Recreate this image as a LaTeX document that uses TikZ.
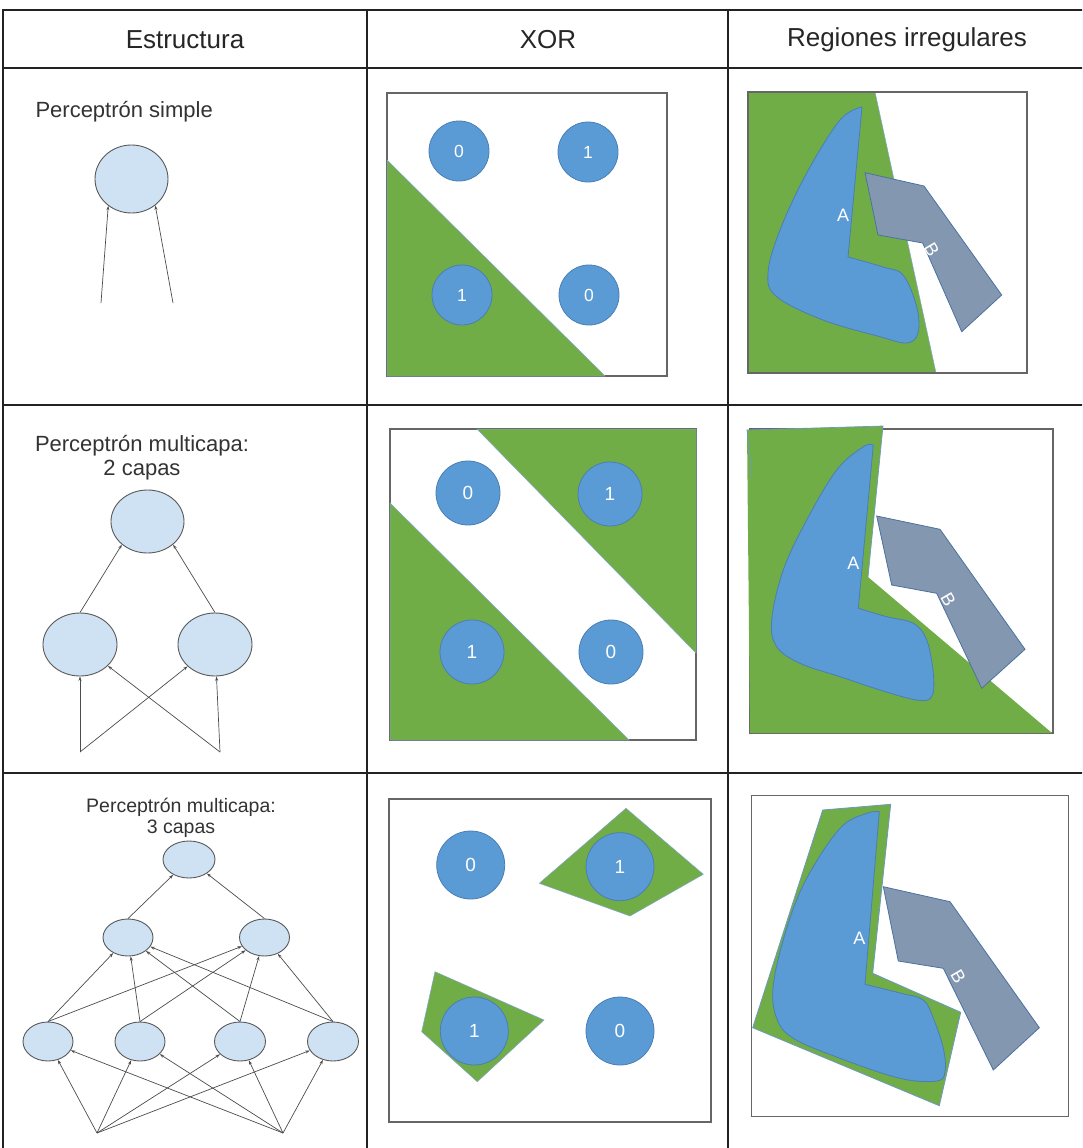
\documentclass[tikz,border=0pt]{standalone}
\usepackage{fontspec}
\setmainfont{Liberation Sans}
\usetikzlibrary{shapes.geometric,arrows.meta}
\definecolor{nn}{HTML}{CFE2F3}
\definecolor{dot}{HTML}{5B9BD5}
\definecolor{dotedge}{HTML}{4A7EB5}
\definecolor{grn}{HTML}{70AD47}
\definecolor{bshape}{HTML}{8497B0}
\definecolor{bedge}{HTML}{4A72A0}
\definecolor{gridc}{HTML}{222222}
\begin{document}
\begin{tikzpicture}[x=1pt,y=-1pt,
  neuron/.style={ellipse,draw=black!65,fill=nn,line width=0.9pt,inner sep=0pt},
  link/.style={draw=black!70,line width=0.7pt,-{Stealth[length=4.5pt,width=3pt]}},
  hdr/.style={font=\fontsize{26}{30}\selectfont,text=black!85},
  lbl/.style={font=\fontsize{22}{24}\selectfont,text=black!80,align=center},
  lblsmall/.style={font=\fontsize{19.5}{20.5}\selectfont,text=black!80,align=center},
  panel/.style={draw=black!60,line width=1.2pt,fill=white},
  region/.style={fill=grn,draw=dotedge!70,line width=0.5pt},
  dotnode/.style={circle,fill=dot,draw=dotedge,line width=0.8pt,inner sep=0pt,text=white,font=\fontsize{17.5}{18}\selectfont},
  bigdot/.style={dotnode,font=\fontsize{19}{19}\selectfont},
  shapeA/.style={fill=dot,draw=dotedge,line width=0.8pt},
  shapeB/.style={fill=bshape,draw=bedge,line width=0.8pt},
  shapelbl/.style={text=white,font=\fontsize{18}{18}\selectfont,inner sep=0pt}]
\useasboundingbox (0,0) rectangle (1082,1148);
\clip (0,0) rectangle (1082,1148);
\fill[white] (0,0) rectangle (1082,1148);

% ---------- table grid ----------
\draw[gridc,line width=1.5pt] (3,1160) -- (3,10) -- (1090,10);
\draw[gridc,line width=1.5pt] (3,68) -- (1090,68);
\draw[gridc,line width=1.5pt] (3,405) -- (1090,405);
\draw[gridc,line width=1.5pt] (3,773) -- (1090,773);
\draw[gridc,line width=1.5pt] (367,10) -- (367,1160);
\draw[gridc,line width=1.5pt] (728,10) -- (728,1160);

% ---------- header ----------
\node[hdr] (h1) at (185,40) {Estructura};
\node[hdr] (h2) at (548,40) {XOR};
\node[hdr] (h3) at (907,40) {Regiones irregulares};

% ---------- row 1: structure ----------
\node[lbl,anchor=west] (t1) at (32,112) {Perceptrón simple};
\node[neuron,minimum width=73pt,minimum height=68pt] (n1) at (131.5,179) {};
\coordinate (i1a) at (101,303);
\coordinate (i1b) at (173,303);
\draw[link] (i1a) -- (n1.229);
\draw[link] (i1b) -- (n1.312);

% ---------- row 2: structure ----------
\node[lbl] (t2) at (142,458) {Perceptrón multicapa:\\2 capas};
\node[neuron,minimum width=73pt,minimum height=63pt] (T2) at (147.5,521.5) {};
\node[neuron,minimum width=74pt,minimum height=63pt] (L2) at (80,644.5) {};
\node[neuron,minimum width=74pt,minimum height=63pt] (R2) at (215,644.5) {};
\coordinate (i2a) at (80,752);
\coordinate (i2b) at (220,752);
\draw[link] (L2.north) -- (T2.222);
\draw[link] (R2.north) -- (T2.318);
\draw[link] (i2a) -- (L2);
\draw[link] (i2a) -- (R2);
\draw[link] (i2b) -- (L2);
\draw[link] (i2b) -- (R2);

% ---------- row 3: structure ----------
\node[lblsmall] (t3) at (181,818) {Perceptrón multicapa:\\3 capas};
\node[neuron,minimum width=52pt,minimum height=37pt] (O3) at (189,859.5) {};
\node[neuron,minimum width=50pt,minimum height=37pt] (H3a) at (128,937.5) {};
\node[neuron,minimum width=50pt,minimum height=37pt] (H3b) at (264.5,937.5) {};
\node[neuron,minimum width=50pt,minimum height=39pt] (B3a) at (48,1041.5) {};
\node[neuron,minimum width=50pt,minimum height=39pt] (B3b) at (140,1041.5) {};
\node[neuron,minimum width=51pt,minimum height=39pt] (B3c) at (240,1041.5) {};
\node[neuron,minimum width=51pt,minimum height=39pt] (B3d) at (333,1041.5) {};
\coordinate (i3a) at (97,1133);
\coordinate (i3b) at (283,1133);
\draw[link] (H3a.north) -- (O3);
\draw[link] (H3b.north) -- (O3);
\foreach \b in {B3a,B3b,B3c,B3d}{
  \draw[link] (\b.north) -- (H3a);
  \draw[link] (\b.north) -- (H3b);
  \draw[link] (i3a) -- (\b);
  \draw[link] (i3b) -- (\b);
}

% ---------- row 1: XOR ----------
\draw[panel] (387,93) rectangle (667,376);
\fill[region] (387,160) -- (605,376) -- (387,376) -- cycle;
\node[dotnode,minimum size=60pt] (x1a) at (459,151) {0};
\node[dotnode,minimum size=60pt] (x1b) at (588,152) {1};
\node[dotnode,minimum size=60pt] (x1c) at (462,295) {1};
\node[dotnode,minimum size=60pt] (x1d) at (589,295) {0};

% ---------- row 2: XOR ----------
\draw[panel] (390,429) rectangle (696,740);
\fill[region] (390,503) -- (629,740) -- (390,740) -- cycle;
\fill[region] (477,429) -- (696,429) -- (696,653) -- cycle;
\node[bigdot,minimum size=64pt] (x2a) at (468,493) {0};
\node[bigdot,minimum size=64pt] (x2b) at (610,494) {1};
\node[bigdot,minimum size=64pt] (x2c) at (472,652) {1};
\node[bigdot,minimum size=64pt] (x2d) at (611,652) {0};

% ---------- row 3: XOR ----------
\draw[panel] (389,799) rectangle (711,1122);
\filldraw[region] (626,808.3) -- (703.3,874.3) -- (630,916) -- (539.3,883.3) -- cycle;
\filldraw[region] (435,971.7) -- (544,1020) -- (477.3,1081.7) -- (421.7,1031.7) -- cycle;
\node[bigdot,minimum size=68pt] (x3a) at (470.7,865) {0};
\node[bigdot,minimum size=68pt] (x3b) at (620,866.7) {1};
\node[bigdot,minimum size=68pt] (x3c) at (474.3,1031) {1};
\node[bigdot,minimum size=68pt] (x3d) at (620,1031) {0};

% ---------- row 1: regions ----------
\fill[white] (748,92) rectangle (1027,373);
\fill[grn] (748,92) -- (875,92) -- (936,373) -- (748,373) -- cycle;
\draw[dotedge!70,line width=0.5pt] (875,92) -- (936,373);
\draw[black!60,line width=1.2pt] (748,92) rectangle (1027,373);
\filldraw[shapeA] (862,107) -- (848,257) -- plot[smooth,tension=0.6] coordinates {(848,257) (883,267) (903,275) (916.7,306.7) (918,333) (906.7,343) (880,336.7) (823,320) (776.7,296.7) (768,273) (780,230) (806.7,173) (840,120) (862,107)} -- cycle;
\node[shapelbl] (a1) at (843,215) {A};
\filldraw[shapeB] (865,172.7) -- (924,186) -- (1001.7,295) -- (961.7,331.7) -- (922.7,243) -- (878,235) -- cycle;
\node[shapelbl,rotate=-60] (b1) at (931.7,250) {B};

% ---------- row 2: regions ----------
\draw[black!60,line width=1.2pt,fill=white] (750,429) rectangle (1053,733);
\fill[grn] (747,430) -- (883,426) -- (868,577) -- (1052,733) -- (750,733) -- cycle;
\draw[dotedge!80,line width=0.7pt] (752,477) -- (747,430) -- (883,426) -- (868,577);
\filldraw[shapeA] (873.3,445) -- (858.3,608.3) -- plot[smooth,tension=0.6] coordinates {(858.3,608.3) (886.7,616.7) (913.3,623.3) (926.7,640) (933.3,673.3) (931.7,696.7) (916.7,700) (880,690) (840,676.7) (800,663.3) (776.7,646.7) (771.7,620) (783.3,570) (806.7,520) (836.7,470) (863.3,446.7) (873.3,445)} -- cycle;
\node[shapelbl] (a2) at (853.3,563.3) {A};
\filldraw[shapeB] (876.7,516) -- (940,529.3) -- (1025,649.3) -- (981.7,688.3) -- (936.7,593.3) -- (891.7,585) -- cycle;
\node[shapelbl,rotate=-60] (b2) at (948.3,600) {B};

% ---------- row 3: regions ----------
\draw[panel] (751.7,795.7) rectangle (1068.3,1116.7);
\filldraw[region,draw=dotedge!80,line width=0.8pt] (822.7,810) -- (890.7,804.3) -- (872.7,973.3) -- (960.7,1012.3) -- (939.3,1105.7) -- (752.7,1027.7) -- cycle;
\filldraw[shapeA] (879.3,811.7) -- (865,984.3) -- plot[smooth,tension=0.6] coordinates {(865,984.3) (900,993) (923.3,1000) (933.3,1018.3) (943.3,1048.3) (945,1071.7) (936.7,1081) (900,1078.3) (840,1058.3) (793.3,1038.3) (776.7,1018.3) (773.3,985) (786.7,928.3) (806.7,878.3) (840,828.3) (866.7,813.3) (879.3,811.7)} -- cycle;
\node[shapelbl] (a3) at (859.3,938.3) {A};
\filldraw[shapeB] (883.3,886.7) -- (950,901.7) -- (1039.3,1027.7) -- (993.3,1070) -- (943.3,968.3) -- (898.3,961) -- cycle;
\node[shapelbl,rotate=-60] (b3) at (958.3,976.7) {B};
\end{tikzpicture}
\end{document}
